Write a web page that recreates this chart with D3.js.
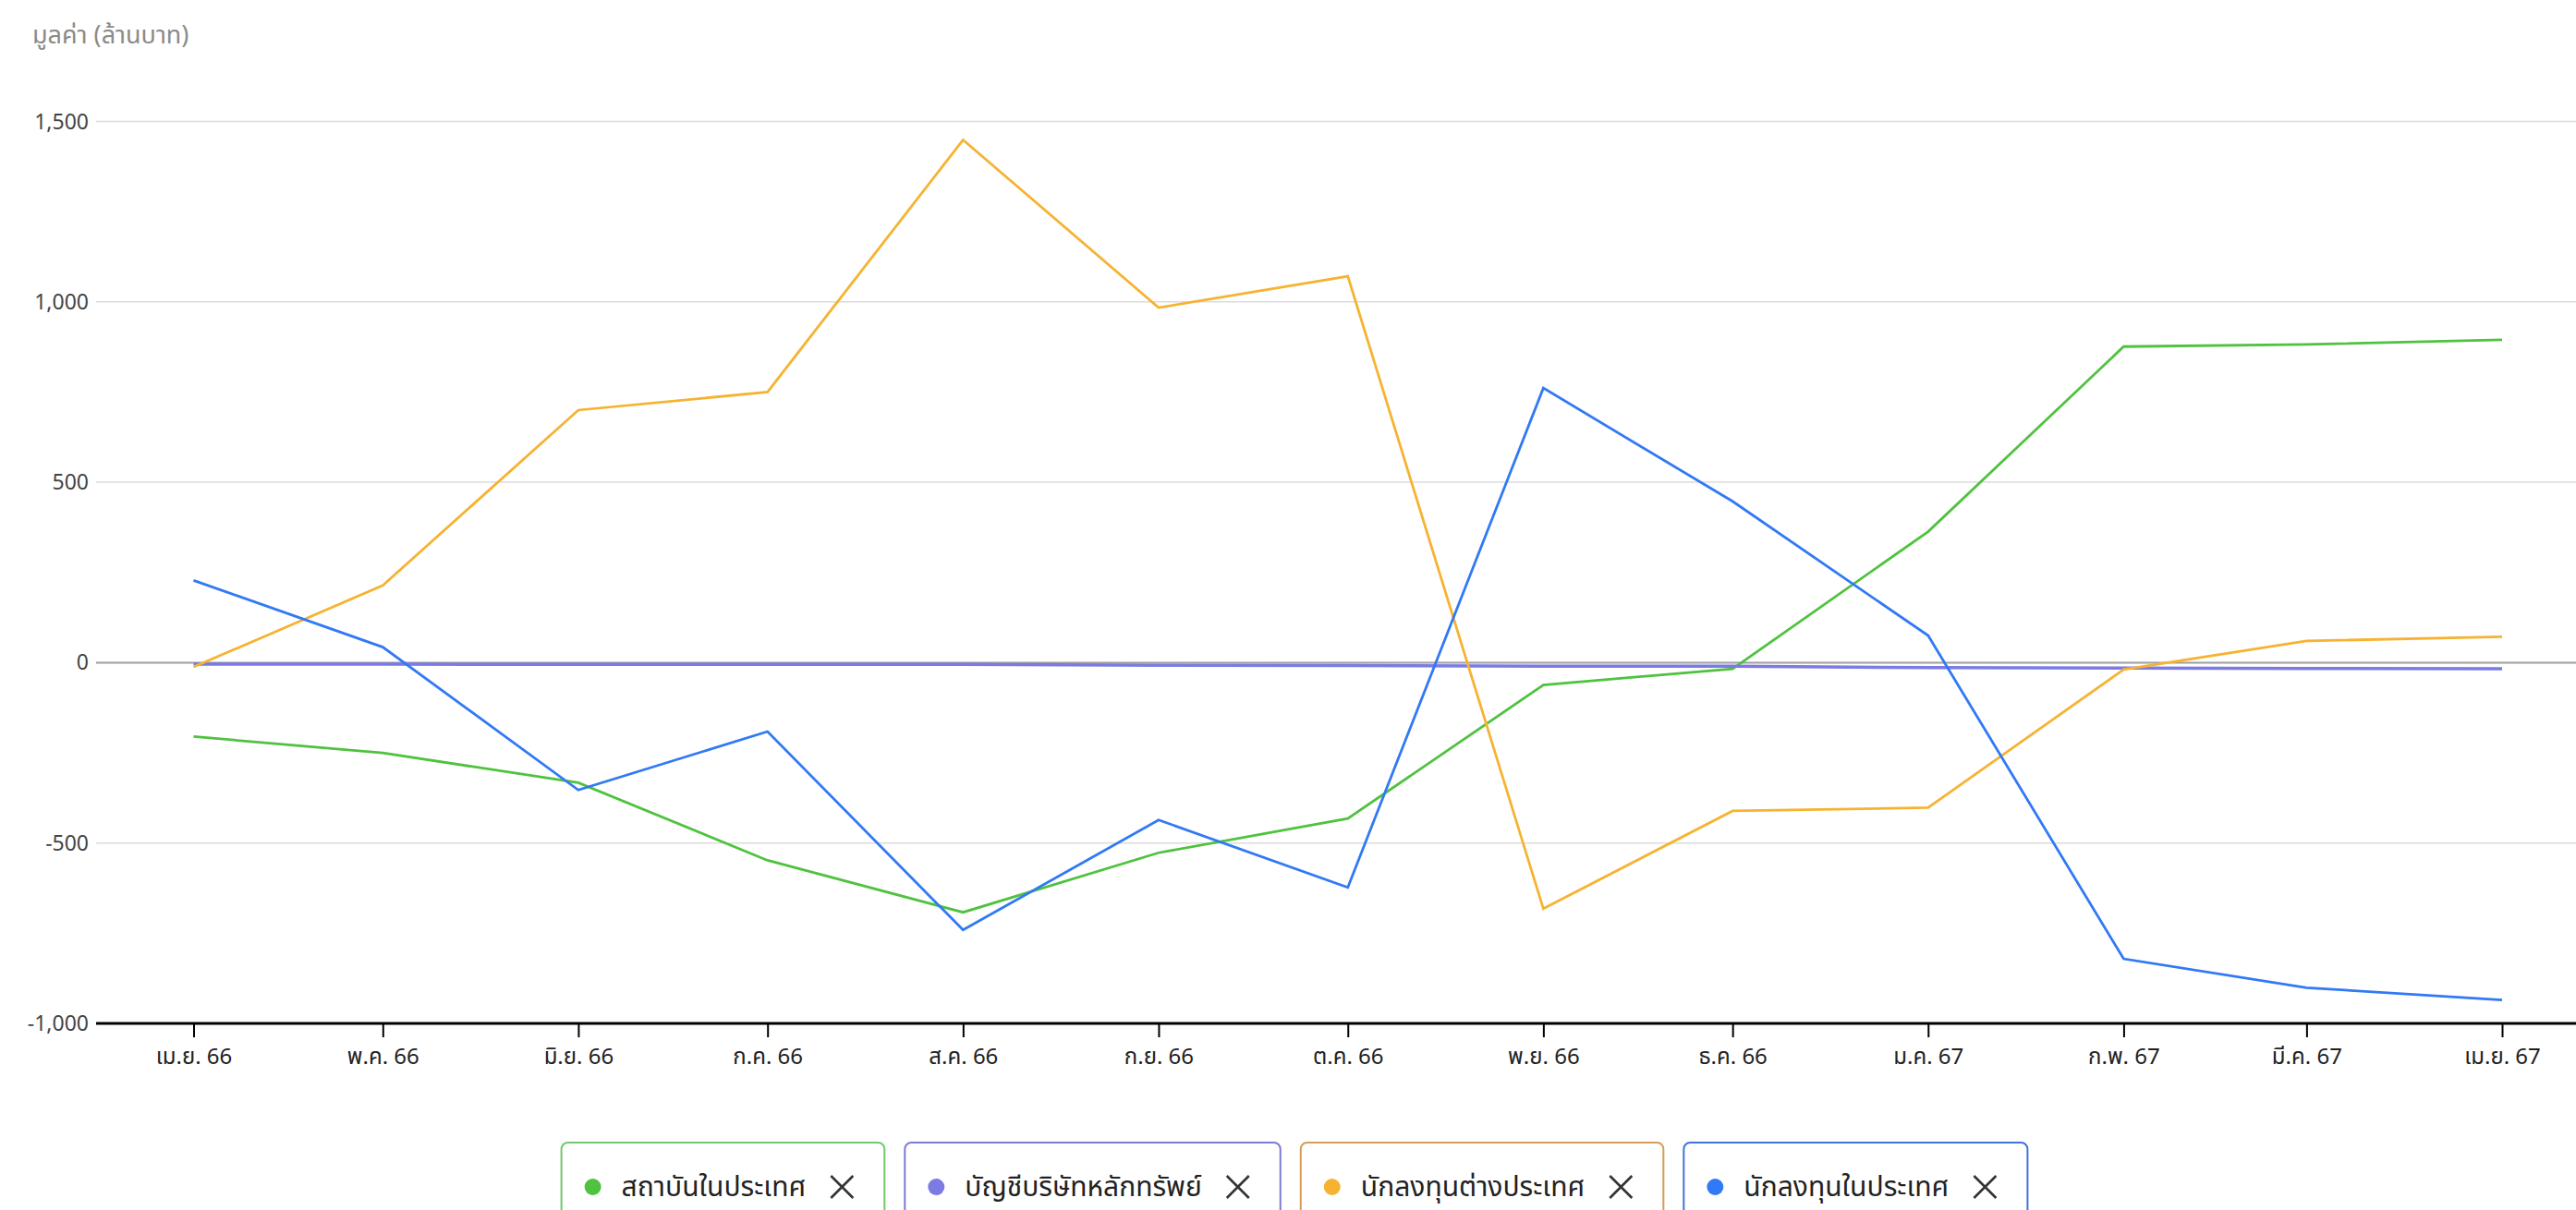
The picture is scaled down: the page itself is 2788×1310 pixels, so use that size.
<!doctype html>
<html>
  <head>
    <meta charset="utf-8">
    <title>มูลค่า (ล้านบาท)</title>
    <style>
      body { margin: 0; background: #fff; }
      svg { display: block; font-family: "Noto Sans Thai", "Leelawadee UI", Tahoma, "Noto Sans", sans-serif; }
      .grid line { stroke: #dcdcdc; stroke-width: 1.5px; }
      .zero { stroke: #9e9e9e; stroke-width: 2px; }
      .ylab { fill: #444; font-size: 23px; }
      .xlab { fill: #222; font-size: 24px; }
      .title { fill: #8a8a8a; font-size: 27px; }
      .serie { fill: none; stroke-linejoin: miter; }
      .leg text { fill: #222; font-size: 30px; }
    </style>
  </head>
  <body>
  <script src="https://d3js.org/d3.v7.min.js"></script>
  <script>
    // months (1st of month) and their Thai labels
    var months = ["2023-04-01","2023-05-01","2023-06-01","2023-07-01","2023-08-01","2023-09-01",
                  "2023-10-01","2023-11-01","2023-12-01","2024-01-01","2024-02-01","2024-03-01","2024-04-01"];
    var monthLabels = ["เม.ย. 66","พ.ค. 66","มิ.ย. 66","ก.ค. 66","ส.ค. 66","ก.ย. 66",
                       "ต.ค. 66","พ.ย. 66","ธ.ค. 66","ม.ค. 67","ก.พ. 67","มี.ค. 67","เม.ย. 67"];
    var yTicks = [-1000, -500, 0, 500, 1000, 1500];

    var seriesNames = ["สถาบันในประเทศ", "บัญชีบริษัทหลักทรัพย์", "นักลงทุนต่างประเทศ", "นักลงทุนในประเทศ"];
    var seriesColors = ["#4fc23f", "#7b7be3", "#f6b332", "#3179f5"];
    var borderColors = ["#74c76c", "#7c7cd2", "#d69d58", "#3f74d9"];

    var institutions = [-205, -250, -333, -548, -692, -527, -432, -62, -17, 363, 876, 882, 895];
    var brokers      = [-4, -4, -5, -5, -5, -7, -8, -10, -10, -14, -15, -16, -17];
    var foreign      = [-12, 214, 700, 750, 1449, 984, 1071, -682, -411, -402, -19, 60, 72];
    var local        = [228, 43, -353, -191, -741, -436, -623, 761, 447, 75, -821, -901, -935];
    var allSeries = [institutions, brokers, foreign, local];

    var W = 2788, H = 1310;
    var plotLeft = 104, plotRight = W, plotTop = 131.5, plotBottom = 1108;

    var parse = d3.timeParse("%Y-%m-%d");
    var dates = months.map(parse);

    var x = d3.scaleTime().domain([dates[0], dates[dates.length - 1]]).range([209.5, 2708]);
    var y = d3.scaleLinear().domain([-1000, 1500]).range([plotBottom, plotTop]);

    var svg = d3.select("body").append("svg")
      .attr("width", W)
      .attr("height", H);

    svg.append("text")
      .attr("class", "title")
      .attr("x", 35)
      .attr("y", 47)
      .text("มูลค่า (ล้านบาท)");

    // horizontal grid
    var grid = svg.append("g").attr("class", "grid");
    grid.selectAll("line")
      .data(yTicks.filter(function(d) { return d !== 0 && d !== -1000; }))
      .enter().append("line")
      .attr("x1", plotLeft).attr("x2", plotRight)
      .attr("y1", function(d) { return y(d); })
      .attr("y2", function(d) { return y(d); });

    svg.selectAll(".ylab")
      .data(yTicks)
      .enter().append("text")
      .attr("class", "ylab")
      .attr("x", 96)
      .attr("y", function(d) { return y(d); })
      .attr("dy", "0.35em")
      .attr("text-anchor", "end")
      .text(function(d) { return d3.format(",")(d); });

    svg.append("line")
      .attr("class", "zero")
      .attr("x1", plotLeft).attr("x2", plotRight)
      .attr("y1", y(0)).attr("y2", y(0));

    // x axis
    var xAxis = svg.append("g")
      .attr("transform", "translate(0," + plotBottom + ")")
      .call(d3.axisBottom(x).tickValues(dates).tickSize(15).tickPadding(12)
        .tickFormat(function(d, i) { return monthLabels[i]; }));
    xAxis.attr("font-family", null).attr("font-size", null);
    xAxis.select(".domain").remove();
    xAxis.selectAll(".tick line").attr("stroke", "#000").attr("stroke-width", 2);
    xAxis.selectAll(".tick text").attr("class", "xlab").attr("fill", null);
    svg.append("line")
      .attr("x1", plotLeft).attr("x2", plotRight)
      .attr("y1", plotBottom).attr("y2", plotBottom)
      .attr("stroke", "#000").attr("stroke-width", 3);

    var line = d3.line()
      .x(function(d, i) { return x(dates[i]); })
      .y(function(d) { return y(d); });

    svg.selectAll(".serie")
      .data(allSeries)
      .enter().append("path")
      .attr("class", "serie")
      .attr("stroke", function(d, i) { return seriesColors[i]; })
      .attr("stroke-width", function(d, i) { return i === 1 ? 3.5 : 2.8; })
      .attr("d", line);

    // legend chips
    var leg = svg.append("g").attr("class", "leg");
    var chips = [], cx = 0, gap = 22;
    seriesNames.forEach(function(name, i) {
      var g = leg.append("g");
      var t = g.append("text").attr("x", 65).attr("y", 47).attr("dy", "0.35em").text(name);
      var tw = t.node().getComputedTextLength();
      var bw = 65 + tw + 27 + 25 + 33;
      g.insert("rect", "text")
        .attr("x", 0).attr("y", 0).attr("width", bw).attr("height", 110)
        .attr("rx", 7).attr("fill", "#fff")
        .attr("stroke", borderColors[i]).attr("stroke-width", 2);
      g.append("circle").attr("cx", 34).attr("cy", 48).attr("r", 9).attr("fill", seriesColors[i]);
      var xx = 65 + tw + 27;
      g.append("path")
        .attr("d", "M" + xx + "," + 36 + "L" + (xx + 24) + "," + 60 + "M" + (xx + 24) + "," + 36 + "L" + xx + "," + 60)
        .attr("stroke", "#333").attr("stroke-width", 2.6).attr("fill", "none");
      chips.push({ g: g, x: cx });
      cx += bw + gap;
    });
    var total = cx - gap;
    var start = 1401 - total / 2;
    chips.forEach(function(c) {
      c.g.attr("transform", "translate(" + (start + c.x) + ",1237)");
    });
  </script>
  </body>
</html>
